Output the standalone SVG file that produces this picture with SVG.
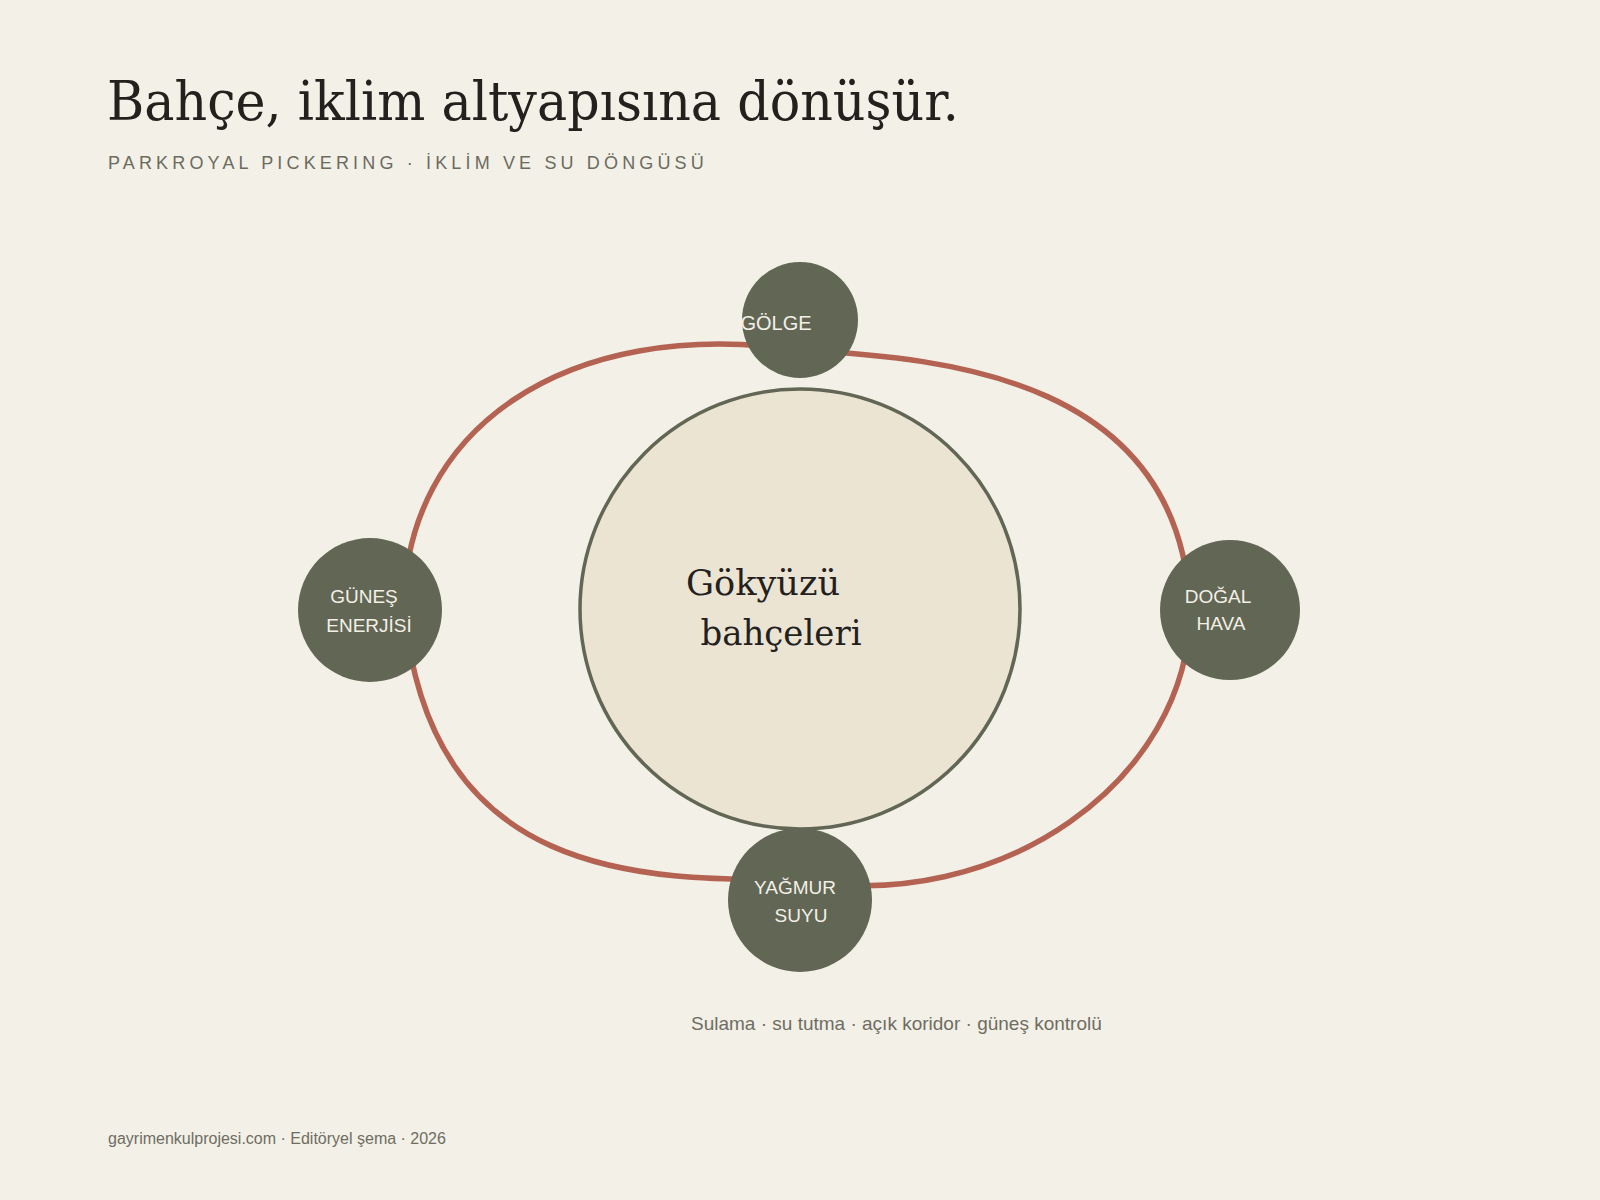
<svg xmlns="http://www.w3.org/2000/svg" width="1600" height="1200" viewBox="0 0 1600 1200">
<style>
.title{font-family:"DejaVu Serif",Georgia,serif;font-size:55px;fill:#23211e}
.sub{font-family:"Liberation Sans",Arial,sans-serif;font-size:18px;letter-spacing:4.15px;fill:#6b6b5f}
.node{fill:#626654}
.lbl{font-family:"Liberation Sans",Arial,sans-serif;font-size:19px;fill:#f3f0e7;text-anchor:middle}
.center{fill:#ece4d3;stroke:#626654;stroke-width:3.5}
.ctext{font-family:"DejaVu Serif",Georgia,serif;font-size:36px;fill:#23211e;text-anchor:middle}
.orbit{fill:none;stroke:#b46353;stroke-width:5.5;stroke-linecap:round}
.cap{font-family:"Liberation Sans",Arial,sans-serif;font-size:19px;fill:#6e6d63}
.foot{font-family:"Liberation Sans",Arial,sans-serif;font-size:16px;fill:#6e6d63}
</style>
<rect width="1600" height="1200" fill="#f3f0e7"/>
<text class="title" x="107" y="120" textLength="852" lengthAdjust="spacingAndGlyphs">Bahçe, iklim altyapısına dönüşür.</text>
<text class="sub" x="108" y="169">PARKROYAL PICKERING · İKLİM VE SU DÖNGÜSÜ</text>
<g id="connectors">
<path class="orbit" d="M 404 609 C 404 430 565 316 800 350 C 950 358 1180 380 1190 609 C 1190 780 1000 915 800 880 C 640 880 430 880 404 609 Z"/>
</g>
<g id="node-center">
<circle class="center" cx="800" cy="609" r="220"/>
<text class="ctext" x="763" y="595" textLength="154" lengthAdjust="spacingAndGlyphs">Gökyüzü</text>
<text class="ctext" x="781" y="645" textLength="161" lengthAdjust="spacingAndGlyphs">bahçeleri</text>
</g>
<g id="node-golge">
<circle class="node" cx="800" cy="320" r="58"/>
<text class="lbl" x="776" y="330" style="font-size:20px">GÖLGE</text>
</g>
<g id="node-gunes">
<circle class="node" cx="370" cy="610" r="72"/>
<text class="lbl" x="364" y="603">GÜNEŞ</text>
<text class="lbl" x="369" y="632">ENERJİSİ</text>
</g>
<g id="node-dogal">
<circle class="node" cx="1230" cy="610" r="70"/>
<text class="lbl" x="1218" y="603">DOĞAL</text>
<text class="lbl" x="1221" y="630">HAVA</text>
</g>
<g id="node-yagmur">
<circle class="node" cx="800" cy="900" r="72"/>
<text class="lbl" x="795" y="894">YAĞMUR</text>
<text class="lbl" x="801" y="922">SUYU</text>
</g>
<text class="cap" x="691" y="1030">Sulama · su tutma · açık koridor · güneş kontrolü</text>
<text class="foot" x="108" y="1144">gayrimenkulprojesi.com · Editöryel şema · 2026</text>
</svg>
